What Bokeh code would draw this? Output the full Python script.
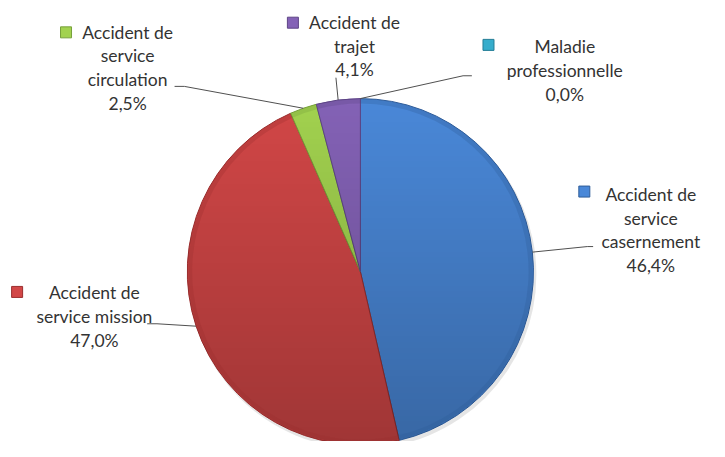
import numpy as np
from bokeh.plotting import figure
from bokeh.models import Range1d
from bokeh.embed import file_html
from bokeh.resources import INLINE
from bokeh.core.properties import value

# ---- data ----
categories = ["Accident de service casernement", "Accident de service mission",
              "Accident de service circulation", "Accident de trajet",
              "Maladie professionnelle"]
label_lines = [["Accident de", "service", "casernement"],
               ["Accident de", "service mission"],
               ["Accident de", "service", "circulation"],
               ["Accident de", "trajet"],
               ["Maladie", "professionnelle"]]
values = [46.4, 47.0, 2.5, 4.1, 0.0]
pct_labels = ["46,4%", "47,0%", "2,5%", "4,1%", "0,0%"]
colors = ["#4A88D8", "#D24747", "#A2D24F", "#8462B6", "#36ADCC"]
edge_colors = ["#2F5C99", "#9A2E2E", "#76A03A", "#5E4586", "#237D96"]

# ---- layout (reference picture coordinates, 725 x 457) ----
PW, PH = 725, 457
W, H = 709, 441
SX, SY = W / PW, H / PH
CX, CY, R = 368, 281, 177
label_pos = [(665, 201), (96, 303), (130, 33), (362, 23), (577, 48)]
marker_pos = [(597, 198), (17, 302), (67, 33), (299, 23), (499, 46)]
leader_start = [(606, 255), (150, 335), (178, 89), (343, 80), (482, 78)]
leader_elbow = [(600, 255), (160, 335), (188, 89), None, (473, 78)]
LINE_STEP = 24.5

def Y(y):
    return -y

p = figure(width=W, height=H, output_backend="svg", toolbar_location=None,
           x_range=Range1d(0, PW), y_range=Range1d(-PH, 0),
           min_border=0)
p.axis.visible = False
p.grid.visible = False
p.outline_line_color = None
p.background_fill_color = "white"
p.border_fill_color = "white"

total = sum(values)
cum = np.cumsum([0] + values)
starts = [90 - 360 * cum[i] / total for i in range(len(values))]
ends = [90 - 360 * cum[i + 1] / total for i in range(len(values))]
mids = [(s + e) / 2 for s, e in zip(starts, ends)]
RY = R * SX / SY  # radius in y data units giving a round disc on screen

# soft shadow
p.circle(x=[CX + 2], y=[Y(CY + 3)], radius=R + 1, fill_color="#000000",
         fill_alpha=0.10, line_color=None)

idx = [i for i, v in enumerate(values) if v > 0]
p.wedge(x=[CX] * len(idx), y=[Y(CY)] * len(idx), radius=R,
        start_angle=[np.radians(ends[i]) for i in idx],
        end_angle=[np.radians(starts[i]) for i in idx],
        direction="anticlock",
        fill_color=[colors[i] for i in idx],
        line_color=[edge_colors[i] for i in idx], line_width=1)

# vertical shading overlay (lighter top, darker bottom), masked to the disc
rs = R * SX
n = int(round(2 * rs))
yy, xx = np.mgrid[0:n, 0:n]
dx = xx + 0.5 - n / 2
dy = yy + 0.5 - n / 2
inside = (dx * dx + dy * dy) <= (n / 2 - 0.5) ** 2
t = 1 - (yy + 0.5) / n          # row 0 = bottom -> t = 1 (dark)
alpha = (0.24 * t * 255).astype(np.uint32)
alpha[~inside] = 0
img = (alpha << 24).astype(np.uint32)
p.image_rgba(image=[img], x=CX - R, y=Y(CY) - RY, dw=2 * R, dh=2 * RY)

# rim bevel
p.annular_wedge(x=[CX] * len(idx), y=[Y(CY)] * len(idx), inner_radius=R - 5,
                outer_radius=R,
                start_angle=[np.radians(ends[i]) for i in idx],
                end_angle=[np.radians(starts[i]) for i in idx],
                direction="anticlock",
                fill_color=[edge_colors[i] for i in idx], fill_alpha=0.30,
                line_color=None)

# leader lines
xs, ys = [], []
for i in range(len(values)):
    rx = CX + R * np.cos(np.radians(mids[i]))
    ry = Y(CY) + RY * np.sin(np.radians(mids[i]))
    pts = [(leader_start[i][0], Y(leader_start[i][1]))]
    if leader_elbow[i] is not None:
        pts.append((leader_elbow[i][0], Y(leader_elbow[i][1])))
    pts.append((rx, ry))
    xs.append([q[0] for q in pts])
    ys.append([q[1] for q in pts])
p.multi_line(xs=xs, ys=ys, line_color="#505050", line_width=1)

# labels
tx, ty, tt = [], [], []
for i in range(len(values)):
    lines = label_lines[i] + [pct_labels[i]]
    cx, cy = label_pos[i]
    for k, s in enumerate(lines):
        tx.append(cx)
        ty.append(Y(cy + k * LINE_STEP))
        tt.append(s)
p.text(x=tx, y=ty, text=tt, text_font=value("Lato"), text_font_size="17.5px",
       text_color="#333333", text_align="center", text_baseline="middle")

# legend keys
p.scatter(x=[m[0] for m in marker_pos], y=[Y(m[1]) for m in marker_pos],
          marker="square", size=11, fill_color=colors, line_color=edge_colors,
          line_width=1)

open("out.html", "w").write(file_html(p, INLINE))
